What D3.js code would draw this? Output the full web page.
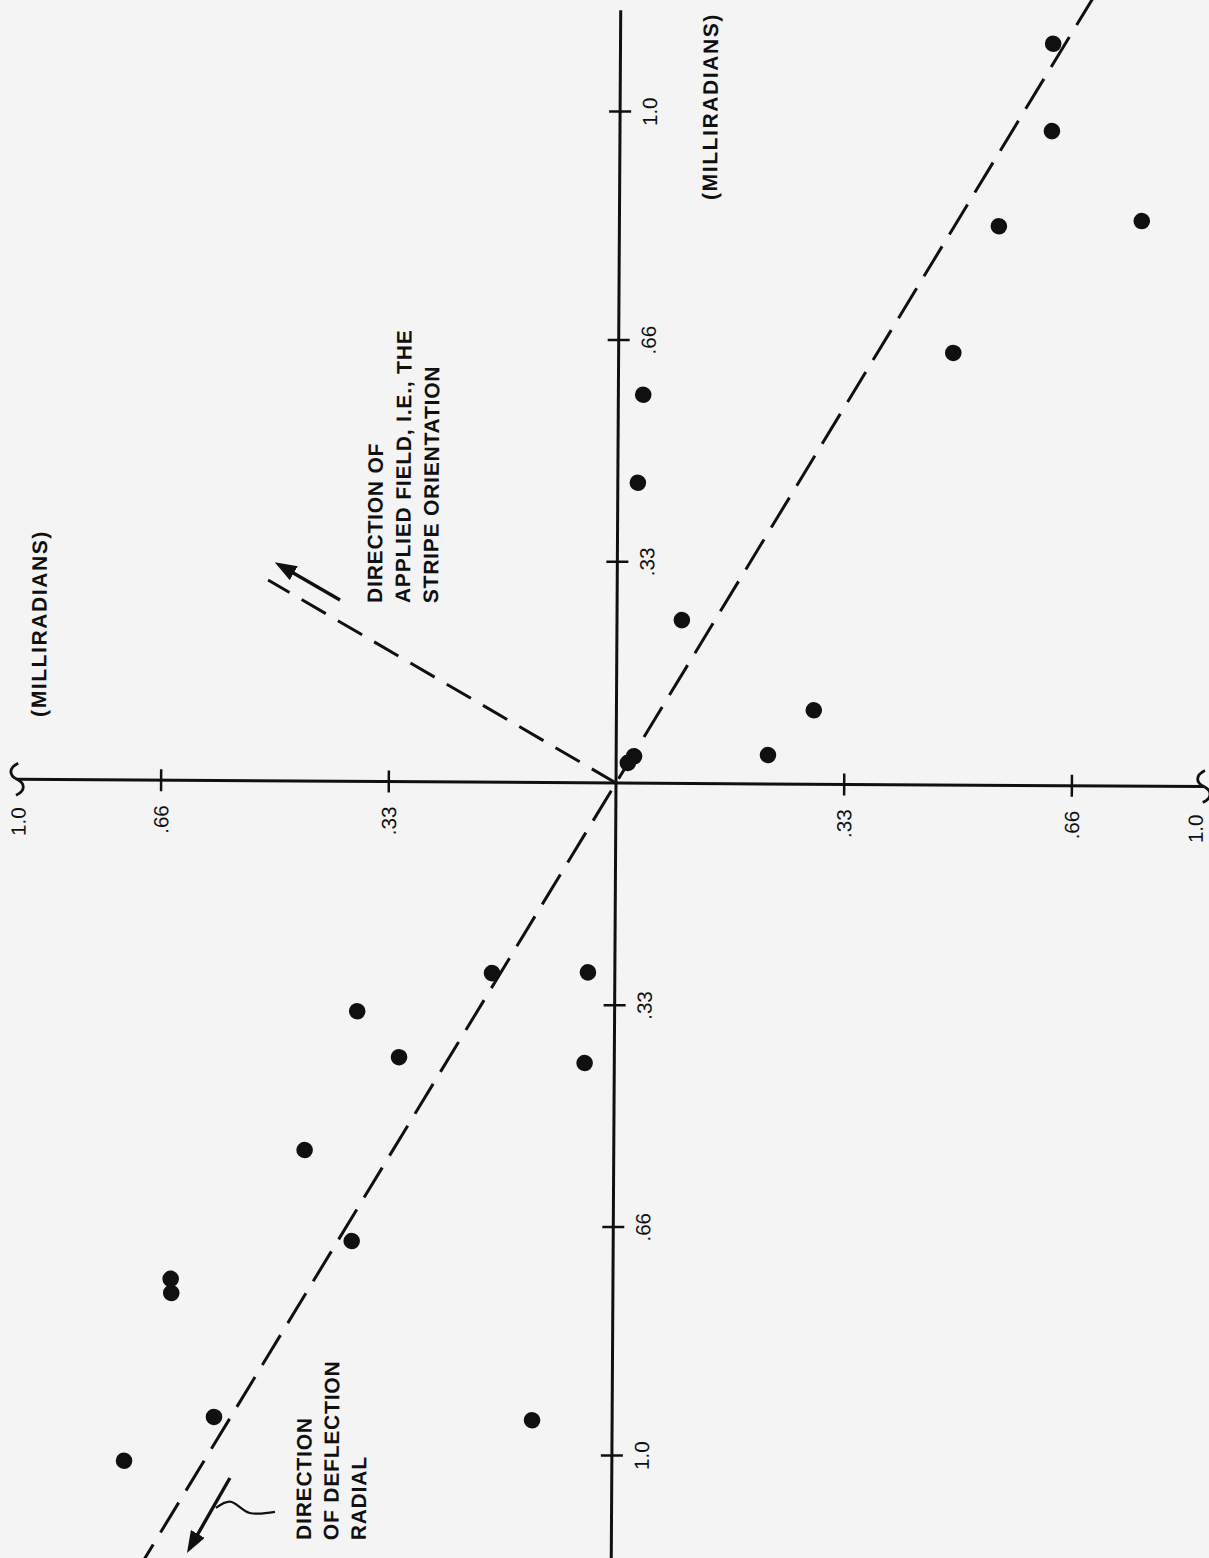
<!DOCTYPE html>
<html>
<head>
<meta charset="utf-8">
<script src="https://cdn.jsdelivr.net/npm/d3@7"></script>
<style>
  html, body { margin: 0; padding: 0; background: #f4f4f4; }
  svg { display: block; }
</style>
</head>
<body>
<svg id="chart" width="1209" height="1558"></svg>
<script>
// Measured beam deflections, in milliradians (horizontal, vertical components)
const deflectionX = [0.627, 0.626, 0.757, 0.550, 0.485, 0.036, 0.029, 0.094, 0.286, 0.220, 0.026, 0.017,
                     -0.178, -0.039, -0.373, -0.312, -0.043, -0.448, -0.379, -0.641, -0.640, -0.577, -0.116, -0.707];
const deflectionY = [1.104, 0.974, 0.841, 0.832, 0.643, 0.578, 0.447, 0.243, 0.110, 0.043, 0.040, 0.030,
                     -0.284, -0.282, -0.342, -0.410, -0.417, -0.549, -0.684, -0.742, -0.763, -0.947, -0.949, -1.013];

// Axis ticks
const hTickValues = [-0.66, -0.33, 0.33, 0.66];
const hTickLabels = [".66", ".33", ".33", ".66"];
const vTickValues = [-1.0, -0.66, -0.33, 0.33, 0.66, 1.0];
const vTickLabels = ["1.0", ".66", ".33", ".33", ".66", "1.0"];
const hBreakValues = [-0.868, 0.852];      // horizontal axis is broken short of 1.0
const hBreakLabelAt = [-0.866, 0.84];
const hBreakLabels = ["1.0", "1.0"];
const vAxisExtent = [-1.2, 1.15];

// Guide lines through the origin (milliradians)
const radialLine = [[-0.69, -1.182], [0.69, 1.182]];
const stripeLine = [[0, 0], [-0.506, 0.299]];

// Direction arrows and leader
const fieldArrow = [[-0.4016, 0.2698], [-0.489, 0.321]];
const radialArrow = [[-0.5534, -1.0377], [-0.6107, -1.142]];
const radialLeader = [[-0.5734, -1.0824], [-0.5532, -1.073], [-0.5241, -1.0896], [-0.4878, -1.0878]];

// Annotation text
const fieldNote = ["DIRECTION OF", "APPLIED FIELD, I.E., THE", "STRIPE ORIENTATION"];
const fieldNoteAt = [-0.3407, 0.2658];
const radialNote = ["DIRECTION", "OF DEFLECTION", "RADIAL"];
const radialNoteAt = [-0.4355, -1.1292];
const unitLabel = "(MILLIRADIANS)";
const unitLabelAt = [[-0.8267, 0.0931], [0.1413, 0.8685]];

const ink = "#101010";
const font = "'Liberation Sans', Arial, Helvetica, sans-serif";

const svg = d3.select("#chart");
const width = +svg.attr("width"), height = +svg.attr("height");

svg.append("rect").attr("width", width).attr("height", height).attr("fill", "#f4f4f4");

const cx = 616, cy = 783;
const x = d3.scaleLinear().domain([-1, 1]).range([cx - 690, cx + 690]);
const y = d3.scaleLinear().domain([-1, 1]).range([cy + 672, cy - 672]);

const defs = svg.append("defs");
defs.append("marker")
  .attr("id", "head")
  .attr("markerUnits", "userSpaceOnUse")
  .attr("viewBox", "0 0 22 16")
  .attr("markerWidth", 22).attr("markerHeight", 16)
  .attr("refX", 16).attr("refY", 8)
  .attr("orient", "auto")
  .append("path").attr("d", "M0,0 L22,8 L0,16 Z").attr("fill", ink);

// The whole plate sits very slightly turned
const plot = svg.append("g").attr("transform", `rotate(0.35, ${cx}, ${cy})`);

const line = d3.line().x(d => x(d[0])).y(d => y(d[1]));

// Horizontal axis with breaks at both ends
plot.append("path")
  .attr("d", line(hBreakValues.map(v => [v, 0])))
  .attr("stroke", ink).attr("stroke-width", 3).attr("fill", "none");

plot.selectAll(".break")
  .data(hBreakValues)
  .join("path")
  .attr("class", "break")
  .attr("transform", d => `translate(${x(d)},${y(0)})`)
  .attr("d", "M1,-16 C-9,-11 -8,-4 0,0 C8,4 9,11 -1,16")
  .attr("stroke", ink).attr("stroke-width", 2.8).attr("fill", "none");

// Vertical axis
plot.append("path")
  .attr("d", line(vAxisExtent.map(v => [0, v])))
  .attr("stroke", ink).attr("stroke-width", 3).attr("fill", "none");

// Horizontal ticks and labels
const gx = plot.append("g")
  .attr("transform", `translate(0,${y(0)})`)
  .call(d3.axisBottom(x).tickValues(hTickValues).tickFormat((d, i) => hTickLabels[i]).tickSize(11));
gx.select(".domain").remove();
gx.attr("font-family", font).attr("font-size", 20.5);
gx.selectAll(".tick line").attr("y1", -11).attr("y2", 11).attr("stroke", ink).attr("stroke-width", 2.5);
gx.selectAll(".tick text")
  .attr("transform", "rotate(-90)")
  .attr("x", -25).attr("y", 0).attr("dy", "0.36em")
  .attr("text-anchor", "end").attr("fill", ink);

// End labels at the axis breaks
plot.selectAll(".break-label")
  .data(hBreakLabelAt)
  .join("text")
  .attr("class", "break-label")
  .attr("transform", d => `translate(${x(d)},${y(0) + 28}) rotate(-90)`)
  .attr("dy", "0.36em")
  .attr("text-anchor", "end")
  .attr("font-family", font).attr("font-size", 20.5).attr("fill", ink)
  .text((d, i) => hBreakLabels[i]);

// Vertical ticks and labels
const gy = plot.append("g")
  .attr("transform", `translate(${x(0)},0)`)
  .call(d3.axisRight(y).tickValues(vTickValues).tickFormat((d, i) => vTickLabels[i]).tickSize(11));
gy.select(".domain").remove();
gy.attr("font-family", font).attr("font-size", 20.5);
gy.selectAll(".tick line").attr("x1", -11).attr("x2", 11).attr("stroke", ink).attr("stroke-width", 2.5);
gy.selectAll(".tick text")
  .attr("transform", "rotate(-90)")
  .attr("x", 0).attr("y", 37).attr("dy", 0)
  .attr("text-anchor", "middle").attr("fill", ink);

// Dashed guide lines
plot.append("path")
  .attr("d", line(radialLine))
  .attr("stroke", ink).attr("stroke-width", 3).attr("fill", "none")
  .attr("stroke-dasharray", "35 14");

plot.append("path")
  .attr("d", line(stripeLine))
  .attr("stroke", ink).attr("stroke-width", 3).attr("fill", "none")
  .attr("stroke-dasharray", "28 14");

// Arrows
[fieldArrow, radialArrow].forEach(a => {
  plot.append("path")
    .attr("d", line(a))
    .attr("stroke", ink).attr("stroke-width", 3.4).attr("fill", "none")
    .attr("marker-end", "url(#head)");
});

plot.append("path")
  .attr("d", d3.line().x(d => x(d[0])).y(d => y(d[1])).curve(d3.curveCatmullRom)(radialLeader))
  .attr("stroke", ink).attr("stroke-width", 2.2).attr("fill", "none");

// Data points
plot.selectAll(".pt")
  .data(deflectionX.map((v, i) => [v, deflectionY[i]]))
  .join("circle")
  .attr("class", "pt")
  .attr("cx", d => x(d[0]))
  .attr("cy", d => y(d[1]))
  .attr("r", 8.3)
  .attr("fill", ink);

// Annotations (rotated text blocks)
function note(lines, at, size, spacing, lineGap) {
  const t = plot.append("text")
    .attr("transform", `translate(${x(at[0])},${y(at[1])}) rotate(-90)`)
    .attr("font-family", font).attr("font-weight", "bold")
    .attr("font-size", size).attr("letter-spacing", spacing)
    .attr("fill", ink);
  lines.forEach((s, i) => {
    t.append("tspan").attr("x", 0).attr("dy", i === 0 ? 0 : lineGap).text(s);
  });
}
note(fieldNote, fieldNoteAt, 21, 0.8, 28);
note(radialNote, radialNoteAt, 21, 0.8, 27.5);
unitLabelAt.forEach(at => note([unitLabel], at, 21, 1.6, 0));
</script>
</body>
</html>
